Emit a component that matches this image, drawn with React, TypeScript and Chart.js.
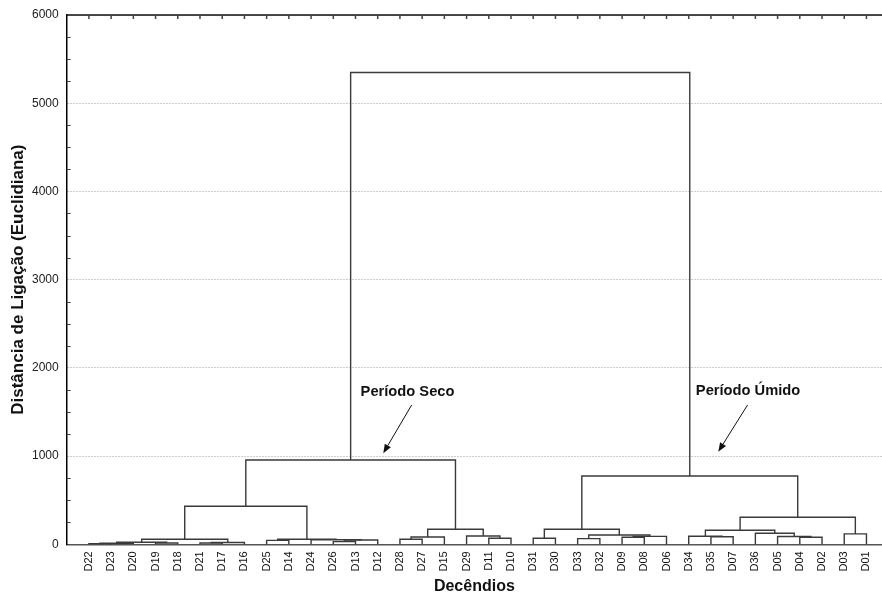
import React, { useEffect, useRef } from "react";
import { Chart, registerables } from "chart.js";

Chart.register(...registerables);

// Leaf order along the x axis (dendrogram order)
const leaves = [
  "D22", "D23", "D20", "D19", "D18", "D21", "D17", "D16", "D25", "D14", "D24", "D26",
  "D13", "D12", "D28", "D27", "D15", "D29", "D11", "D10", "D31", "D30", "D33", "D32",
  "D09", "D08", "D06", "D34", "D35", "D07", "D36", "D05", "D04", "D02", "D03", "D01",
];

// Linkage table: child A, child B ("#n" = n-th merge), linkage distance
const mergeA = [
  "D22", "#0", "D19", "#1", "D21", "#4", "#3", "D25", "D26", "#8", "D24", "#7",
  "#6", "D28", "#13", "D11", "D29", "#14", "#12", "D31", "D33", "D09", "#21", "#20",
  "#19", "D35", "D34", "D04", "D05", "D36", "#26", "D03", "#30", "#24", "#18",
];
const mergeB = [
  "D23", "D20", "D18", "#2", "D17", "D16", "#5", "D14", "D13", "D12", "#9", "#10",
  "#11", "D27", "D15", "D10", "#15", "#16", "#17", "D30", "D32", "D08", "D06", "#22",
  "#23", "D07", "#25", "D02", "#27", "#28", "#29", "D01", "#31", "#32", "#33",
];
const mergeHeight = [
  8, 12, 14, 23, 15, 20, 57, 45, 30, 48, 52, 58,
  431, 57, 83, 68, 94, 170, 956, 68, 64, 80, 90, 105,
  170, 85, 92, 80, 88, 125, 159, 118, 306, 775, 5348,
];

const yTickValues = [0, 1000, 2000, 3000, 4000, 5000, 6000];

const annotationTexts = ["Período Seco", "Período Úmido"];

// annotation placement in data coordinates (x = leaf index scale, y = distance)
const annotationLayout = [
  { tx: 13.23, ty: 1682, ax1: 15.53, ay1: 1580, ax2: 14.25, ay2: 1032 },
  { tx: 28.32, ty: 1693, ax1: 30.65, ay1: 1580, ax2: 29.33, ay2: 1050 },
];

const FONT = "Arial, 'Liberation Sans', sans-serif";

function buildSegments() {
  const nodeX: number[] = [];
  const nodeY: number[] = [];
  const pos = (ref: string) => {
    if (ref.startsWith("#")) {
      const k = parseInt(ref.slice(1), 10);
      return { x: nodeX[k], y: nodeY[k] };
    }
    return { x: leaves.indexOf(ref) + 1, y: 0 };
  };
  return mergeA.map((a, i) => {
    const pa = pos(a);
    const pb = pos(mergeB[i]);
    const h = mergeHeight[i];
    nodeX[i] = (pa.x + pb.x) / 2;
    nodeY[i] = h;
    return [
      { x: pa.x, y: pa.y },
      { x: pa.x, y: h },
      { x: pb.x, y: h },
      { x: pb.x, y: pb.y },
    ];
  });
}

const framePlugin = {
  id: "frame",
  afterDraw(chart: any) {
    const { ctx, chartArea, scales } = chart;
    const { left, right, top } = chartArea;
    const x = scales.x;
    const y = scales.y;
    ctx.save();
    // top frame line
    ctx.strokeStyle = "#111";
    ctx.lineWidth = 1.5;
    ctx.beginPath();
    ctx.moveTo(left, top);
    ctx.lineTo(right, top);
    ctx.stroke();
    // top ticks at leaves
    ctx.strokeStyle = "#444";
    ctx.lineWidth = 1.5;
    ctx.beginPath();
    leaves.forEach((_, i) => {
      const px = x.getPixelForValue(i + 1);
      ctx.moveTo(px, top);
      ctx.lineTo(px, top + 4);
    });
    ctx.stroke();
    // minor y ticks (inside)
    ctx.strokeStyle = "#444";
    ctx.lineWidth = 1;
    ctx.beginPath();
    for (let v = 250; v < 6000; v += 250) {
      if (v % 1000 === 0) continue;
      const py = Math.round(y.getPixelForValue(v)) + 0.5;
      ctx.moveTo(left, py);
      ctx.lineTo(left + 4, py);
    }
    ctx.stroke();
    // annotations
    annotationTexts.forEach((t, i) => {
      const a = annotationLayout[i];
      ctx.fillStyle = "#111";
      ctx.font = `bold 14.7px ${FONT}`;
      ctx.textAlign = "left";
      ctx.textBaseline = "alphabetic";
      ctx.fillText(t, x.getPixelForValue(a.tx), y.getPixelForValue(a.ty));
      const x1 = x.getPixelForValue(a.ax1);
      const y1 = y.getPixelForValue(a.ay1);
      const x2 = x.getPixelForValue(a.ax2);
      const y2 = y.getPixelForValue(a.ay2);
      const ang = Math.atan2(y2 - y1, x2 - x1);
      const hl = 9;
      const hw = 3.5;
      const bx = x2 - hl * Math.cos(ang);
      const by = y2 - hl * Math.sin(ang);
      ctx.strokeStyle = "#111";
      ctx.lineWidth = 1;
      ctx.beginPath();
      ctx.moveTo(x1, y1);
      ctx.lineTo(bx, by);
      ctx.stroke();
      ctx.beginPath();
      ctx.moveTo(x2, y2);
      ctx.lineTo(bx + hw * Math.sin(ang), by - hw * Math.cos(ang));
      ctx.lineTo(bx - hw * Math.sin(ang), by + hw * Math.cos(ang));
      ctx.closePath();
      ctx.fill();
    });
    ctx.restore();
  },
};

export default function App() {
  const ref = useRef<HTMLCanvasElement | null>(null);
  useEffect(() => {
    if (!ref.current) return;
    const segs = buildSegments();
    const chart = new Chart(ref.current, {
      type: "scatter",
      data: {
        datasets: segs.map((s) => ({
          data: s,
          showLine: true,
          borderColor: "#3a3a3a",
          borderWidth: 1.4,
          pointRadius: 0,
          pointHoverRadius: 0,
          fill: false,
          tension: 0,
          clip: false as any,
        })),
      },
      options: {
        animation: false,
        responsive: false,
        maintainAspectRatio: false,
        events: [],
        layout: { padding: { left: 0, right: 0, top: 15, bottom: 0 } },
        plugins: {
          legend: { display: false },
          tooltip: { enabled: false },
          title: { display: false },
        },
        scales: {
          x: {
            type: "linear",
            min: 0,
            max: 36.7,
            grid: { display: false, drawTicks: false },
            border: { display: true, color: "#555", width: 1.5 },
            afterBuildTicks: (scale: any) => {
              scale.ticks = leaves.map((_, i) => ({ value: i + 1 }));
            },
            afterFit: (scale: any) => {
              scale.height = 51.7;
              scale.paddingLeft = 0;
              scale.paddingRight = 0;
            },
            ticks: {
              autoSkip: false,
              minRotation: 90,
              maxRotation: 90,
              padding: 7,
              color: "#111",
              font: { family: FONT, size: 11 },
              callback: (v: any) => leaves[Number(v) - 1] ?? "",
            },
            title: {
              display: true,
              text: "Decêndios",
              color: "#111",
              font: { family: FONT, size: 16, weight: "bold" },
              padding: { top: 0, bottom: 0 },
            },
          },
          y: {
            type: "linear",
            min: 0,
            max: 6000,
            afterBuildTicks: (scale: any) => {
              scale.ticks = yTickValues.map((v) => ({ value: v }));
            },
            afterFit: (scale: any) => {
              scale.width = 66.7;
              scale.paddingTop = 0;
              scale.paddingBottom = 0;
            },
            grid: {
              drawTicks: false,
              color: (c: any) => (c.tick && c.tick.value === 0 ? "rgba(0,0,0,0)" : "#9a9a9a"),
              lineWidth: 1,
            },
            border: { display: true, color: "#000", width: 1.5, dash: [1, 2] },
            ticks: {
              padding: 8,
              color: "#222",
              font: { family: FONT, size: 12 },
              callback: (v: any) => String(v),
            },
            title: {
              display: true,
              text: "Distância de Ligação (Euclidiana)",
              color: "#111",
              font: { family: FONT, size: 17, weight: "bold" },
              padding: { top: 8, bottom: 0 },
            },
          },
        },
      },
      plugins: [framePlugin],
    });
    return () => chart.destroy();
  }, []);
  return (
    <div style={{ position: "fixed", left: 0, top: 0, width: 882, height: 596, overflow: "hidden", background: "#fff" }}>
      <canvas ref={ref} width={882} height={596} style={{ display: "block" }} />
    </div>
  );
}
